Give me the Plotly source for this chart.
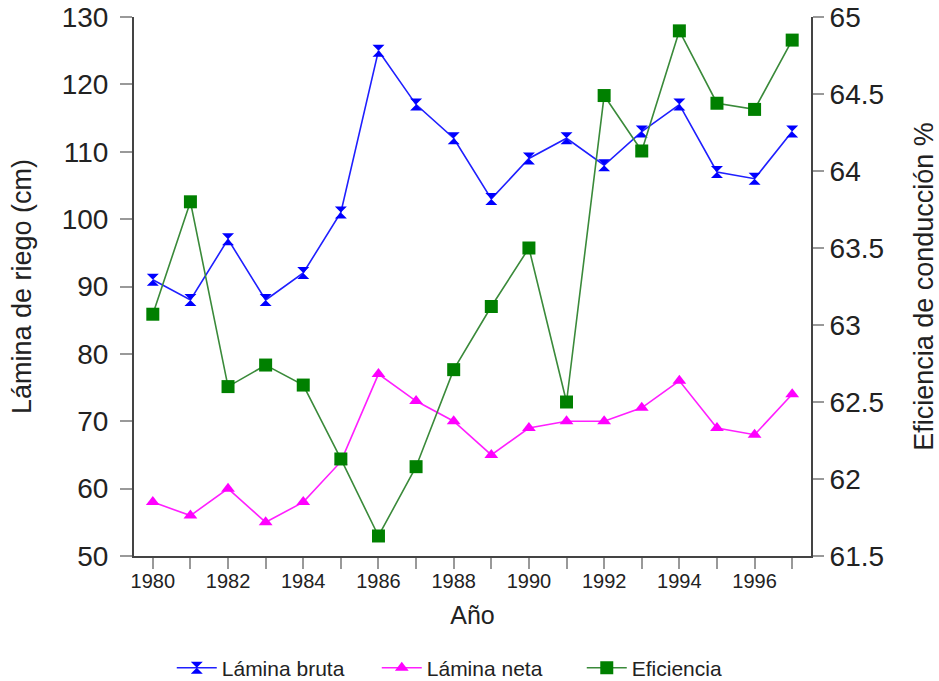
import plotly.graph_objects as go

years = list(range(1980, 1998))
lamina_bruta = [91, 88, 97, 88, 92, 101, 125, 117, 112, 103, 109, 112, 108, 113, 117, 107, 106, 113]
lamina_neta = [58, 56, 60, 55, 58, 64, 77, 73, 70, 65, 69, 70, 70, 72, 76, 69, 68, 74]
eficiencia = [63.07, 63.80, 62.60, 62.74, 62.61, 62.13, 61.63, 62.08, 62.71, 63.12, 63.50, 62.50,
              64.49, 64.13, 64.91, 64.44, 64.40, 64.85]
x_tickvals = list(range(1980, 1998))
x_ticktext = [str(y) if y % 2 == 0 else "" for y in x_tickvals]
left_ticks = [50, 60, 70, 80, 90, 100, 110, 120, 130]
right_ticks = [61.5, 62, 62.5, 63, 63.5, 64, 64.5, 65]
right_ticktext = ["61.5", "62", "62.5", "63", "63.5", "64", "64.5", "65"]

FONT = "Liberation Sans, Arial, sans-serif"
AXIS_LINE = "#444444"
TICK_COL = "#999999"

fig = go.Figure()
fig.add_trace(go.Scatter(
    x=years, y=lamina_bruta, name="Lámina bruta", mode="lines+markers",
    line=dict(color="#1f1fff", width=1.6),
    marker=dict(symbol="hourglass", size=12, color="#0000ff", line=dict(width=0)),
    yaxis="y"))
fig.add_trace(go.Scatter(
    x=years, y=lamina_neta, name="Lámina neta", mode="lines+markers",
    line=dict(color="#ff1fff", width=1.6),
    marker=dict(symbol="triangle-up", size=12, color="#ff00ff", line=dict(width=0)),
    yaxis="y"))
fig.add_trace(go.Scatter(
    x=years, y=eficiencia, name="Eficiencia", mode="lines+markers",
    line=dict(color="#3a8a3a", width=1.6),
    marker=dict(symbol="square", size=13, color="#008000", line=dict(width=0)),
    yaxis="y2"))

xr = [1979.5, 1997.5]
yr = [50, 130]
y2r = [61.5, 65]

fig.update_layout(
    width=939, height=681,
    margin=dict(l=134, r=128, t=17, b=125, autoexpand=False),
    paper_bgcolor="white", plot_bgcolor="white",
    font=dict(family=FONT, color="#222222"),
    showlegend=True,
    legend=dict(orientation="h", x=0.51, xanchor="center", y=-0.208, yanchor="middle",
                font=dict(size=21, family=FONT, color="#222222"),
                itemwidth=40, entrywidth=150, tracegroupgap=0),
    xaxis=dict(range=xr, tickmode="array", tickvals=x_tickvals, ticktext=x_ticktext,
               ticks="outside", ticklen=11, tickwidth=1.5, tickcolor=TICK_COL,
               showline=True, linecolor=AXIS_LINE, linewidth=2, automargin=False,
               showgrid=False, zeroline=False, ticklabelstandoff=-5,
               tickfont=dict(size=20, family=FONT, color="#222222"),
               title=dict(text="Año", font=dict(size=25, family=FONT, color="#222222"), standoff=15)),
    yaxis=dict(range=yr, tickmode="array", tickvals=left_ticks,
               ticks="outside", ticklen=12, tickwidth=1.5, tickcolor=TICK_COL,
               showline=True, linecolor=AXIS_LINE, linewidth=2, automargin=False,
               showgrid=False, zeroline=False, ticklabelstandoff=6,
               tickfont=dict(size=28, family=FONT, color="#222222"),
               title=dict(text="Lámina de riego (cm)", font=dict(size=27, family=FONT, color="#222222"), standoff=22)),
    yaxis2=dict(range=y2r, tickmode="array", tickvals=right_ticks, ticktext=right_ticktext,
                overlaying="y", side="right", anchor="x",
                ticks="outside", ticklen=11, tickwidth=1.5, tickcolor=TICK_COL,
                showline=True, linecolor=AXIS_LINE, linewidth=2, automargin=False,
                showgrid=False, zeroline=False,
                tickfont=dict(size=28, family=FONT, color="#222222"),
                title=dict(text="Eficiencia de conducción %", font=dict(size=27, family=FONT, color="#222222"), standoff=31)),
    # overlay axes used only to draw the inner halves of the crossing ticks
    xaxis2=dict(range=xr, overlaying="x", anchor="y", side="bottom", tickmode="array",
                tickvals=x_tickvals, showticklabels=False, ticks="inside", ticklen=10, automargin=False,
                tickwidth=1.5, tickcolor=TICK_COL, showline=False, showgrid=False, zeroline=False),
    yaxis3=dict(range=yr, overlaying="y", anchor="x", side="left", tickmode="array", automargin=False,
                tickvals=left_ticks, showticklabels=False, ticks="inside", ticklen=11,
                tickwidth=1.5, tickcolor=TICK_COL, showline=False, showgrid=False, zeroline=False),
    yaxis4=dict(range=y2r, overlaying="y", anchor="x", side="right", tickmode="array", automargin=False,
                tickvals=right_ticks, showticklabels=False, ticks="inside", ticklen=11,
                tickwidth=1.5, tickcolor=TICK_COL, showline=False, showgrid=False, zeroline=False),
)

fig.write_html("out.html", config={"displayModeBar": False},
               post_script="document.body.style.margin='0';")
